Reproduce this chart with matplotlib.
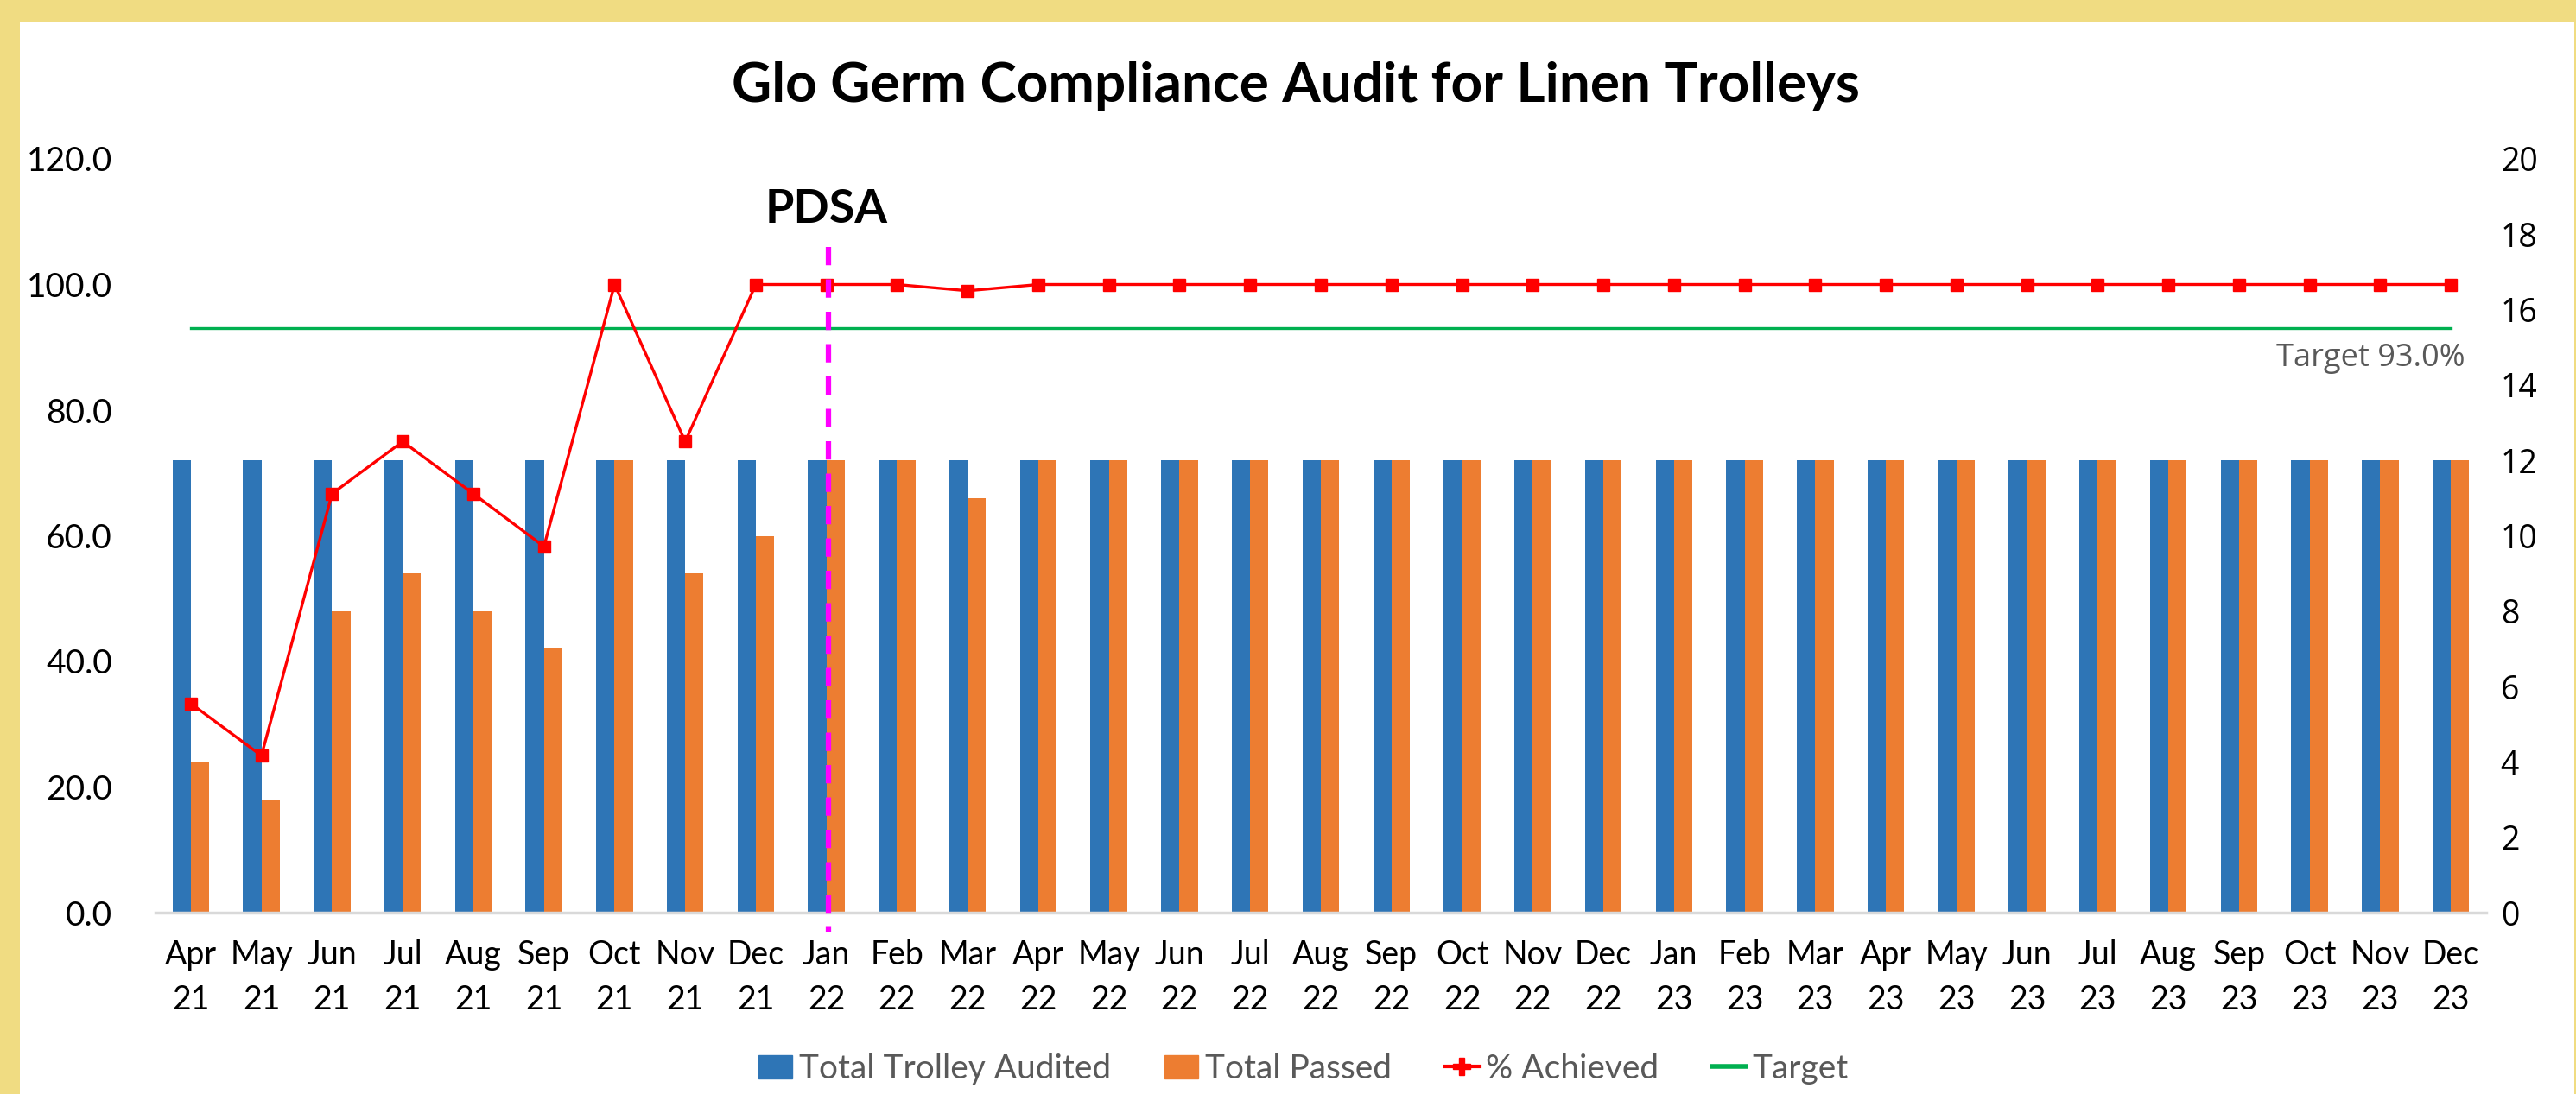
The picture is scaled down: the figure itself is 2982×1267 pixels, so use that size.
import matplotlib
matplotlib.use("Agg")
import matplotlib.pyplot as plt
from matplotlib.patches import Patch
from matplotlib.lines import Line2D
import numpy as np

# data
months = ["Apr\n21", "May\n21", "Jun\n21", "Jul\n21", "Aug\n21", "Sep\n21", "Oct\n21", "Nov\n21", "Dec\n21",
          "Jan\n22", "Feb\n22", "Mar\n22", "Apr\n22", "May\n22", "Jun\n22", "Jul\n22", "Aug\n22", "Sep\n22",
          "Oct\n22", "Nov\n22", "Dec\n22", "Jan\n23", "Feb\n23", "Mar\n23", "Apr\n23", "May\n23", "Jun\n23",
          "Jul\n23", "Aug\n23", "Sep\n23", "Oct\n23", "Nov\n23", "Dec\n23"]
audited = [12] * 33
passed = [4, 3, 8, 9, 8, 7, 12, 9, 10, 12, 12, 11] + [12] * 21
achieved = [33.3, 25.0, 66.7, 75.0, 66.7, 58.3, 100.0, 75.0, 100.0, 100.0, 100.0, 99.0] + [100.0] * 21
target = 93.0
pdsa_month = 9   # Jan 22

blue = "#2E75B6"
orange = "#ED7D31"
red = "#FF0000"
green = "#00B050"
magenta = "#FF00FF"
gray = "#595959"
font = "Lato"

fig = plt.figure(figsize=(29.82, 12.67), dpi=100, facecolor="#F0DC82")
# white chart area inside the yellow frame
fig.patches.append(plt.Rectangle((23 / 2982, 0), (2980 - 23) / 2982, (1267 - 25) / 1267,
                                 transform=fig.transFigure, facecolor="white", edgecolor="none", zorder=-10))

ax = fig.add_axes([180 / 2982, (1267 - 1057) / 1267, (2878 - 180) / 2982, (1057 - 184) / 1267])
ax.set_facecolor("none")
x = np.arange(len(months))
w = 0.26
ax.bar(x - w / 2, audited, w, color=blue, zorder=2)
ax.bar(x + w / 2, passed, w, color=orange, zorder=2)
ax.set_ylim(0, 20)
ax.set_xlim(-0.5, len(months) - 0.5)
ax.set_xticks(x)
ax.set_xticklabels(months, fontsize=27, family=font, linespacing=1.55)
ax.tick_params(axis="x", length=0, pad=22)
for s in ["top", "left", "right"]:
    ax.spines[s].set_visible(False)
ax.spines["bottom"].set_color("#D9D9D9")
ax.spines["bottom"].set_linewidth(2.5)

ax2 = ax.twinx()
ax2.plot(x, [target] * len(x), color=green, lw=2.4, zorder=3)
ax2.plot(x, achieved, color=red, lw=2.4, marker="s", markersize=10, zorder=4)
ax2.plot([pdsa_month + 0.03, pdsa_month + 0.03], [106, -3], color=magenta, lw=4.5, dashes=(3.4, 2.6),
         clip_on=False, zorder=5)
ax2.set_ylim(0, 120)
ax2.set_yticks(range(0, 121, 20))
ax2.set_yticklabels([f"{v:.1f}" for v in range(0, 121, 20)], family=font, fontsize=28)
ax2.yaxis.tick_left()
ax2.tick_params(axis="y", length=0, pad=36)
for s in ["top", "left", "right", "bottom"]:
    ax2.spines[s].set_visible(False)

# bar counts on the right (twinx moved them left, so put them back)
ax.yaxis.tick_right()
ax.set_yticks(range(0, 21, 2))
ax.set_yticklabels([str(v) for v in range(0, 21, 2)], family="Open Sans", fontsize=27)
ax.tick_params(axis="y", length=0, pad=12)

ax2.text(len(months) - 1 + 0.2, 88.3, "Target 93.0%", ha="right", va="center", fontsize=26,
         color=gray, family="Open Sans")
ax2.text(pdsa_month, 112.0, "PDSA", ha="center", va="center", fontsize=39, fontweight="bold", family=font)

fig.text(0.503, 1 - 99 / 1267, "Glo Germ Compliance Audit for Linen Trolleys", ha="center", va="center",
         fontsize=46, fontweight="bold", family=font)

handles = [Patch(color=blue), Patch(color=orange),
           Line2D([], [], color=red, lw=3, marker="P", markersize=15), Line2D([], [], color=green, lw=4)]
leg = fig.legend(handles, ["Total Trolley Audited", "Total Passed", "% Achieved", "Target"], ncol=4,
                 loc="center", bbox_to_anchor=(0.506, 1 - 1238 / 1267), frameon=False,
                 prop={"family": font, "size": 28}, handlelength=1.0, handletextpad=0.2, columnspacing=1.6)
for t in leg.get_texts():
    t.set_color(gray)

fig.savefig("out.png", dpi=100, facecolor=fig.get_facecolor())
